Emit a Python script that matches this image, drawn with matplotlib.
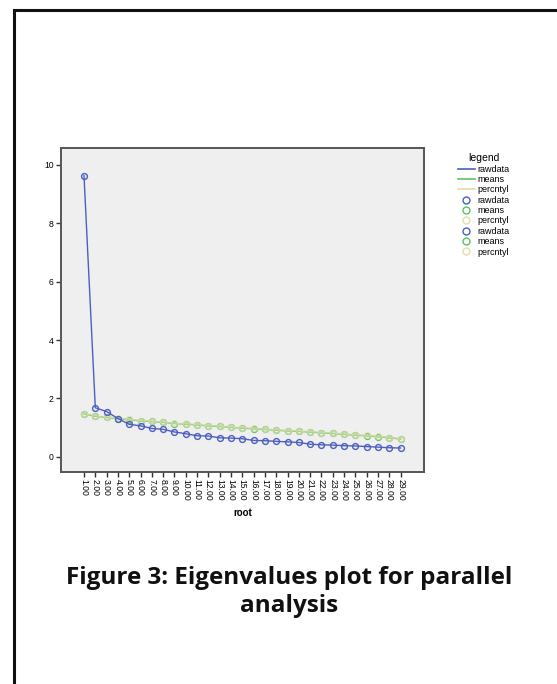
import matplotlib.pyplot as plt
import numpy as np
from matplotlib.lines import Line2D
from matplotlib.patches import Rectangle

# du lieu doc tu hinh
root = np.arange(1, 30)
rawdata = [9.63, 1.68, 1.55, 1.31, 1.11, 1.06, 0.97, 0.94, 0.85, 0.79,
           0.72, 0.71, 0.65, 0.64, 0.62, 0.56, 0.55, 0.53, 0.51, 0.49,
           0.43, 0.41, 0.40, 0.38, 0.37, 0.35, 0.33, 0.31, 0.30]
means = [1.47, 1.39, 1.35, 1.31, 1.27, 1.23, 1.21, 1.18, 1.14, 1.12,
         1.09, 1.06, 1.04, 1.01, 0.98, 0.96, 0.94, 0.91, 0.89, 0.87,
         0.85, 0.82, 0.80, 0.77, 0.74, 0.72, 0.69, 0.65, 0.61]
percntyl = [1.48, 1.40, 1.36, 1.32, 1.28, 1.24, 1.22, 1.19, 1.15, 1.13,
            1.10, 1.07, 1.05, 1.02, 0.99, 0.97, 0.95, 0.92, 0.90, 0.88,
            0.86, 0.83, 0.81, 0.78, 0.75, 0.73, 0.70, 0.66, 0.62]
xlabels = ['%.2f' % v for v in root]
yticks = [0, 2, 4, 6, 8, 10]

blue = '#4a5fc1'
green = '#5cc35c'
tan = '#e3dcae'

fig = plt.figure(figsize=(5.57, 6.84), dpi=100)
fig.patch.set_facecolor('white')

# khung vien den
fig.patches.append(Rectangle((14 / 557, -0.1), 1.2, 1 - 10 / 684 + 0.1,
                             transform=fig.transFigure, fill=False,
                             edgecolor='#111111', linewidth=2.2))

ax = fig.add_axes([0.109, 0.310, 0.652, 0.4737])
ax.set_facecolor('#efefef')

ax.plot(root, means, color=green, lw=1.0, marker='o', ms=4.2,
        mfc='none', mew=1.0)
ax.plot(root, percntyl, color=tan, lw=1.0, marker='o', ms=4.2,
        mfc='none', mew=1.0, alpha=0.7)
ax.plot(root, rawdata, color=blue, lw=1.0, marker='o', ms=4.2,
        mfc='none', mew=1.0)

ax.set_xlim(-1.06, 31.06)
ax.set_ylim(-0.52, 10.58)
ax.set_xticks(root)
ax.set_xticklabels(xlabels, rotation=270, fontsize=6.2, family='Liberation Sans')
ax.set_yticks(yticks)
ax.set_yticklabels([str(v) for v in yticks], fontsize=6.2, family='Liberation Sans')
ax.tick_params(axis='both', length=3.5, width=1.0, color='#333333', pad=1.5)
for s in ax.spines.values():
    s.set_color('#555555')
    s.set_linewidth(1.4)

ax.set_xlabel('root', fontsize=7, fontweight='bold', family='Liberation Sans',
              labelpad=5)

handles = [
    Line2D([], [], color=blue, lw=1.2),
    Line2D([], [], color=green, lw=1.2),
    Line2D([], [], color=tan, lw=1.2),
    Line2D([], [], color=blue, lw=0, marker='o', ms=5, mfc='none'),
    Line2D([], [], color=green, lw=0, marker='o', ms=5, mfc='none'),
    Line2D([], [], color=tan, lw=0, marker='o', ms=5, mfc='none'),
    Line2D([], [], color=blue, lw=0, marker='o', ms=5, mfc='none'),
    Line2D([], [], color=green, lw=0, marker='o', ms=5, mfc='none'),
    Line2D([], [], color=tan, lw=0, marker='o', ms=5, mfc='none'),
]
labels = ['rawdata', 'means', 'percntyl'] * 3
leg = fig.legend(handles, labels, title='legend', loc='upper left',
                 bbox_to_anchor=(452 / 557, 1 - 147 / 684), frameon=False,
                 prop={'family': 'Liberation Sans', 'size': 6.5},
                 handlelength=1.8, handletextpad=0.3, labelspacing=0.15,
                 borderpad=0.2)
leg.get_title().set_fontsize(7.5)
leg.get_title().set_family('Liberation Sans')

fig.text(289 / 557, 1 - 578 / 684, 'Figure 3: Eigenvalues plot for parallel',
         ha='center', va='center', fontsize=17.5, fontweight='bold',
         family='Open Sans', color='#111111')
fig.text(289 / 557, 1 - 606 / 684, 'analysis', ha='center', va='center',
         fontsize=17.5, fontweight='bold', family='Open Sans', color='#111111')

fig.savefig('out.png', dpi=100)
